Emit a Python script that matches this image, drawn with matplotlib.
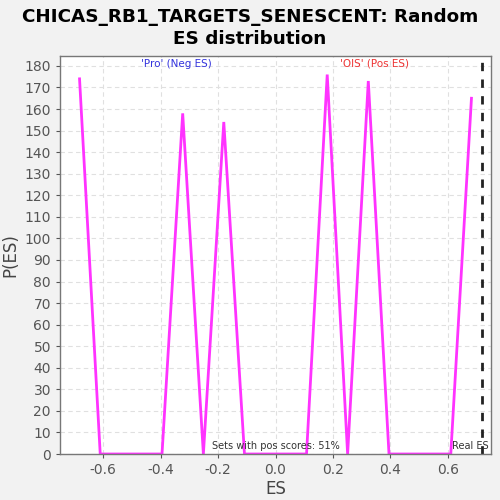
import matplotlib
matplotlib.use("Agg")
import matplotlib.pyplot as plt

es_values = [-0.682, -0.610, -0.539, -0.467, -0.395, -0.323, -0.251, -0.180, -0.108, -0.036,
             0.036, 0.108, 0.180, 0.251, 0.323, 0.395, 0.467, 0.539, 0.610, 0.682]
p_values = [174, 0, 0, 0, 0, 158, 0, 154, 0, 0,
            0, 0, 176, 0, 173, 0, 0, 0, 0, 165]
real_es = 0.72
x_ticks = [-0.6, -0.4, -0.2, 0.0, 0.2, 0.4, 0.6]
y_ticks = list(range(0, 181, 10))

fig = plt.figure(figsize=(5, 5), dpi=100, facecolor="#F2F2F2")
ax = fig.add_axes([0.12, 0.092, 0.862, 0.796])
ax.set_facecolor("white")

ax.plot(es_values, p_values, color="#FF33FF", lw=2.0, solid_joinstyle="miter")
ax.axvline(real_es, color="#222222", lw=2, ls=(0, (3, 3)))

ax.set_xlim(-0.75, 0.75)
ax.set_ylim(0, 184.6)
ax.set_xticks(x_ticks)
ax.set_xticklabels([f"{t:.1f}" for t in x_ticks])
ax.set_yticks(y_ticks)
ax.grid(True, color="#E0E0E0", ls=(0, (4, 3)), lw=0.8)
ax.set_axisbelow(True)
ax.tick_params(colors="#555555", labelsize=10, length=3, width=0.8)
for lab in ax.get_xticklabels() + ax.get_yticklabels():
    lab.set_color("#555555")
for s in ax.spines.values():
    s.set_color("#777777")
    s.set_linewidth(1)

ax.set_xlabel("ES", fontsize=12, color="#444444", labelpad=2)
ax.set_ylabel("P(ES)", fontsize=12, color="#444444", labelpad=4)

fig.suptitle("CHICAS_RB1_TARGETS_SENESCENT: Random\nES distribution",
             fontsize=13.2, fontweight="bold", y=0.985, linespacing=1.3)

ax.text(-0.345, 181, "'Pro' (Neg ES)", color="#3333DD", fontsize=7.5, ha="center", va="center")
ax.text(0.345, 181, "'OIS' (Pos ES)", color="#EE3333", fontsize=7.5, ha="center", va="center")
ax.text(0.0, 1.5, "Sets with pos scores: 51%", color="#333333", fontsize=7, ha="center", va="bottom")
ax.text(0.74, 1.5, "Real ES", color="#333333", fontsize=7, ha="right", va="bottom")

fig.savefig("out.png", dpi=100, facecolor=fig.get_facecolor())
